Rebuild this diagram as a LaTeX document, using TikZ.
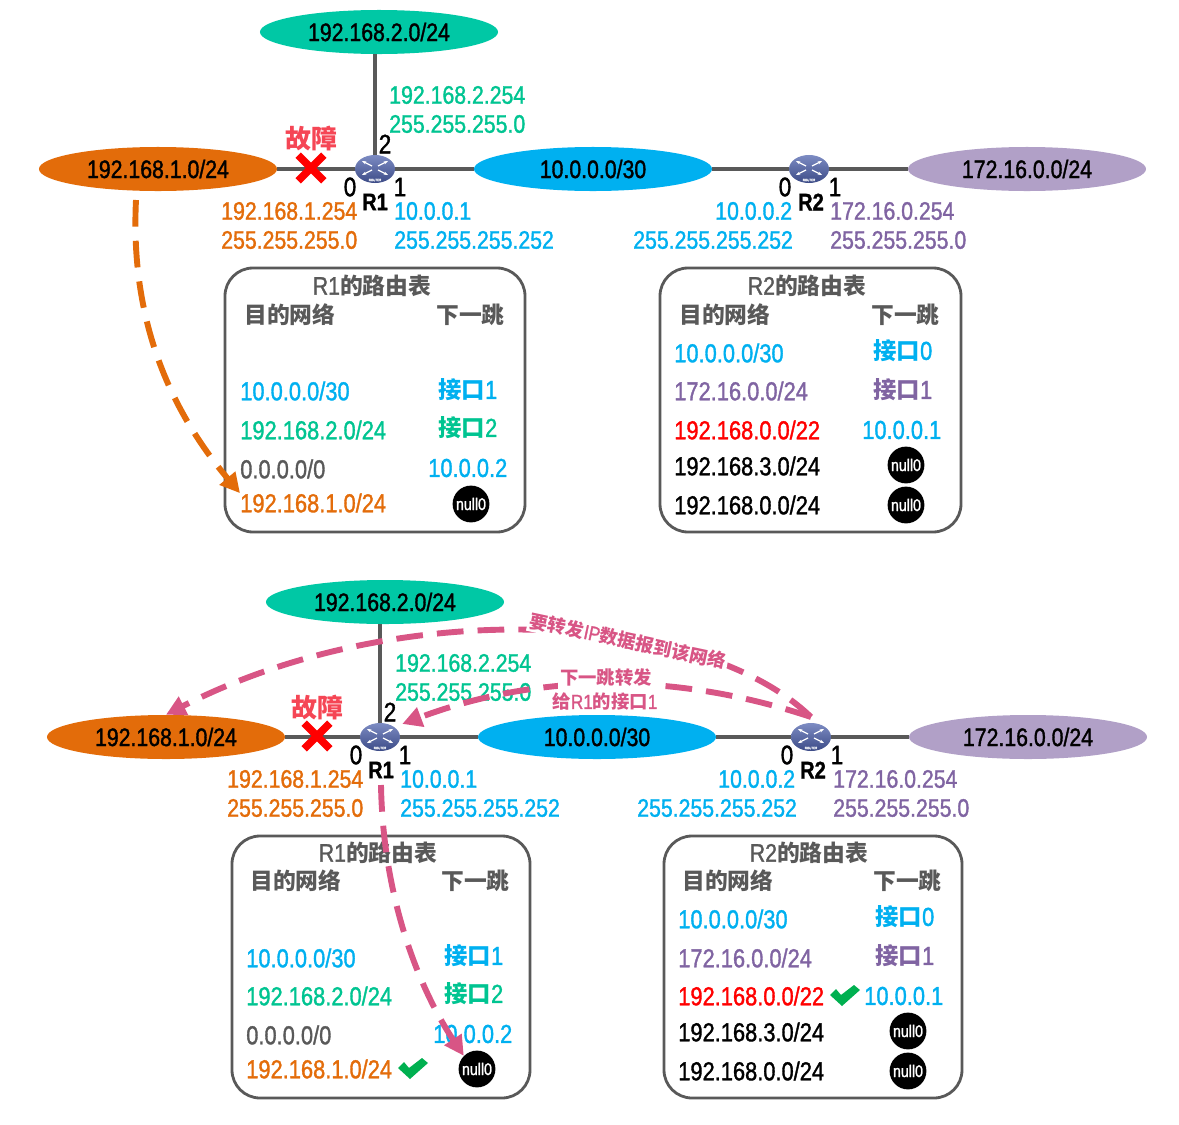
\documentclass[tikz,border=0pt]{standalone}
\usepackage{fontspec}
\usetikzlibrary{arrows.meta, shapes.geometric, shapes.misc}
\setmainfont{Liberation Sans}[FakeStretch=0.84,FakeBold=1.3]
\newfontfamily\cjk{Noto Sans CJK SC}[Scale=0.9]
\newcommand{\zh}[1]{{\cjk\bfseries #1}}
\definecolor{netgreen}{RGB}{0,200,165}
\definecolor{txtgreen}{RGB}{0,196,145}
\definecolor{netorange}{RGB}{227,108,10}
\definecolor{netblue}{RGB}{0,176,240}
\definecolor{netpurple}{RGB}{177,160,199}
\definecolor{txtpurple}{RGB}{128,100,162}
\definecolor{linegray}{RGB}{89,89,89}
\definecolor{pinkline}{RGB}{216,85,133}
\definecolor{faultred}{RGB}{245,70,85}
\definecolor{okgreen}{RGB}{0,176,80}
\definecolor{routertop}{RGB}{125,140,195}
\definecolor{routerlow}{RGB}{60,75,135}
\tikzset{
  netnode/.style={ellipse, minimum width=5.95cm, minimum height=1.1cm, inner sep=0pt, font=\fontsize{18}{20}\selectfont},
  addr/.style={anchor=west, inner sep=0pt, font=\fontsize{18}{20}\selectfont},
  rowtxt/.style={anchor=west, inner sep=0pt, font=\fontsize{18.5}{20}\selectfont},
  head/.style={inner sep=0pt, text=linegray, font=\fontsize{18}{20}\selectfont},
  port/.style={inner sep=0pt, font=\fontsize{19}{20}\selectfont},
  rname/.style={inner sep=0pt, font=\fontsize{17}{18}\selectfont\bfseries},
  link/.style={linegray, line width=2.8pt},
  tablebox/.style={linegray, line width=2pt, rounded corners=0.7cm},
  routernode/.style={ellipse, minimum width=1cm, minimum height=0.7cm, inner sep=0pt, top color=routertop, bottom color=routerlow},
  nullnode/.style={circle, fill=black, text=white, minimum size=0.92cm, inner sep=0pt, font=\fontsize{12}{14}\selectfont},
  faultx/.style={cross out, draw=red, line width=5.5pt, minimum size=0.45cm, inner sep=0pt},
  faulttxt/.style={inner sep=0pt, text=faultred, font=\fontsize{20.5}{22}\selectfont},
  pinktxt/.style={inner sep=1.5pt, fill=white, text=pinkline, font=\fontsize{14.5}{16}\selectfont},
  flow/.style={line width=4.2pt, dash pattern=on 19pt off 10pt, -{Triangle[length=14pt,width=14pt]}},
  router/.pic={
    \foreach \a/\b in {-1/-1,1/-1,-1/1,1/1}
      \draw[white, line width=0.9pt, -{Stealth[length=3pt]}] (3*\a,2*\b-1) -- (13*\a,7*\b-1);
    \node[text=white, inner sep=0pt, font=\fontsize{2.5}{3}\selectfont] (-rt) at (0,11) {ROUTER};
  },
  okmark/.pic={
    \fill[okgreen] (-15,0) -- (-9,-6) -- (-4,0) -- (9,-10) -- (15,-5) -- (-3,11) -- cycle;
  }
}
\begin{document}
\begin{tikzpicture}[x=0.025cm,y=-0.025cm]
  \useasboundingbox (0,0) rectangle (1179,1125);
  % upper network
  \node[netnode, fill=netgreen] (netA2) at (379,32) {192.168.2.0/24};
  \node[netnode, fill=netorange] (netA1) at (158,169) {192.168.1.0/24};
  \node[netnode, fill=netblue] (netA3) at (593,169) {10.0.0.0/30};
  \node[netnode, fill=netpurple] (netA4) at (1027,169) {172.16.0.0/24};
  \node[routernode] (routerA1) at (375,169) {};
  \node[routernode] (routerA2) at (809,169) {};
  \pic (iconA1) at (375,169) {router};
  \pic (iconA2) at (809,169) {router};
  \draw[link] (netA1) -- (routerA1);
  \draw[link] (routerA1) -- (netA3);
  \draw[link] (netA3) -- (routerA2);
  \draw[link] (routerA2) -- (netA4);
  \draw[link] (routerA1) -- (routerA1 |- netA2.south);
  \node[faultx] (crossA) at (311,168) {};
  \node[faulttxt] (faultA) at (311,139) {\zh{故障}};
  \node[port] (portA2) at (385,144) {2};
  \node[port] (portA0) at (350,187) {0};
  \node[port] (portA1) at (400,187) {1};
  \node[rname] (nameA1) at (375,202) {R1};
  \node[port] (portB0) at (785,187) {0};
  \node[port] (portB1) at (835,187) {1};
  \node[rname] (nameA2) at (811,202) {R2};
  \node[addr, text=txtgreen] (ipA2) at (389,95) {192.168.2.254};
  \node[addr, text=txtgreen] (maskA2) at (389,124) {255.255.255.0};
  \node[addr, text=netorange] (ipA0) at (221,211) {192.168.1.254};
  \node[addr, text=netorange] (maskA0) at (221,240) {255.255.255.0};
  \node[addr, text=netblue] (ipA1) at (394,211) {10.0.0.1};
  \node[addr, text=netblue] (maskA1) at (394,240) {255.255.255.252};
  \node[addr, text=netblue] (ipB0) at (715,211) {10.0.0.2};
  \node[addr, text=netblue] (maskB0) at (633,240) {255.255.255.252};
  \node[addr, text=txtpurple] (ipB1) at (830,211) {172.16.0.254};
  \node[addr, text=txtpurple] (maskB1) at (830,240) {255.255.255.0};
  % upper tables
  \draw[tablebox] (225,268) rectangle (525,532);
  \node[head] (titleA1) at (372,286) {R1\zh{的路由表}};
  \node[head, anchor=west] (dstA1) at (244,315) {\zh{目的网络}};
  \node[head, anchor=west] (hopA1) at (436,315) {\zh{下一跳}};
  \node[rowtxt, text=netblue] (rowA11) at (240,391) {10.0.0.0/30};
  \node[rowtxt, text=netblue] (viaA11) at (438,390) {\zh{接口}1};
  \node[rowtxt, text=txtgreen] (rowA12) at (240,430) {192.168.2.0/24};
  \node[rowtxt, text=txtgreen] (viaA12) at (438,428) {\zh{接口}2};
  \node[rowtxt, text=linegray] (rowA13) at (240,469) {0.0.0.0/0};
  \node[rowtxt, text=netblue] (viaA13) at (428,468) {10.0.0.2};
  \node[rowtxt, text=netorange] (rowA14) at (240,503) {192.168.1.0/24};
  \node[nullnode] (viaA14) at (471,504) {null0};
  \draw[tablebox] (660,268) rectangle (961,532);
  \node[head] (titleA2) at (807,286) {R2\zh{的路由表}};
  \node[head, anchor=west] (dstA2) at (679,315) {\zh{目的网络}};
  \node[head, anchor=west] (hopA2) at (871,315) {\zh{下一跳}};
  \node[rowtxt, text=netblue] (rowA21) at (674,353) {10.0.0.0/30};
  \node[rowtxt, text=netblue] (viaA21) at (873,351) {\zh{接口}0};
  \node[rowtxt, text=txtpurple] (rowA22) at (674,391) {172.16.0.0/24};
  \node[rowtxt, text=txtpurple] (viaA22) at (873,390) {\zh{接口}1};
  \node[rowtxt, text=red] (rowA23) at (674,430) {192.168.0.0/22};
  \node[rowtxt, text=netblue] (viaA23) at (862,430) {10.0.0.1};
  \node[rowtxt] (rowA24) at (674,466) {192.168.3.0/24};
  \node[nullnode] (viaA24) at (906,465) {null0};
  \node[rowtxt] (rowA25) at (674,505) {192.168.0.0/24};
  \node[nullnode] (viaA25) at (906,505) {null0};
  \coordinate (flowA) at (136,200);
  \draw[flow, netorange] (flowA) .. controls (130,320) and (170,410) .. (rowA14.north west);
  % lower network
  \node[netnode, fill=netgreen] (netC2) at (385,602) {192.168.2.0/24};
  \node[netnode, fill=netorange] (netC1) at (166,737) {192.168.1.0/24};
  \node[netnode, fill=netblue] (netC3) at (597,737) {10.0.0.0/30};
  \node[netnode, fill=netpurple] (netC4) at (1028,737) {172.16.0.0/24};
  \node[routernode] (routerC1) at (380,737) {};
  \node[routernode] (routerC2) at (811,737) {};
  \pic (iconC1) at (380,737) {router};
  \pic (iconC2) at (811,737) {router};
  \draw[link] (netC1) -- (routerC1);
  \draw[link] (routerC1) -- (netC3);
  \draw[link] (netC3) -- (routerC2);
  \draw[link] (routerC2) -- (netC4);
  \draw[link] (routerC1) -- (routerC1 |- netC2.south);
  \node[faultx] (crossC) at (317,736) {};
  \node[faulttxt] (faultC) at (317,708) {\zh{故障}};
  \node[port] (portC2) at (390,712) {2};
  \node[port] (portC0) at (356,755) {0};
  \node[port] (portC1) at (405,755) {1};
  \node[rname] (nameC1) at (381,770) {R1};
  \node[port] (portD0) at (787,755) {0};
  \node[port] (portD1) at (837,755) {1};
  \node[rname] (nameC2) at (813,770) {R2};
  \node[addr, text=txtgreen] (ipC2) at (395,663) {192.168.2.254};
  \node[addr, text=txtgreen] (maskC2) at (395,692) {255.255.255.0};
  \node[addr, text=netorange] (ipC0) at (227,779) {192.168.1.254};
  \node[addr, text=netorange] (maskC0) at (227,808) {255.255.255.0};
  \node[addr, text=netblue] (ipC1) at (400,779) {10.0.0.1};
  \node[addr, text=netblue] (maskC1) at (400,808) {255.255.255.252};
  \node[addr, text=netblue] (ipD0) at (718,779) {10.0.0.2};
  \node[addr, text=netblue] (maskD0) at (637,808) {255.255.255.252};
  \node[addr, text=txtpurple] (ipD1) at (833,779) {172.16.0.254};
  \node[addr, text=txtpurple] (maskD1) at (833,808) {255.255.255.0};
  % lower tables
  \draw[tablebox] (232,836) rectangle (530,1098);
  \node[head] (titleC1) at (378,853) {R1\zh{的路由表}};
  \node[head, anchor=west] (dstC1) at (250,881) {\zh{目的网络}};
  \node[head, anchor=west] (hopC1) at (441,881) {\zh{下一跳}};
  \node[rowtxt, text=netblue] (rowC11) at (246,958) {10.0.0.0/30};
  \node[rowtxt, text=netblue] (viaC11) at (444,956) {\zh{接口}1};
  \node[rowtxt, text=txtgreen] (rowC12) at (246,996) {192.168.2.0/24};
  \node[rowtxt, text=txtgreen] (viaC12) at (444,994) {\zh{接口}2};
  \node[rowtxt, text=linegray] (rowC13) at (246,1035) {0.0.0.0/0};
  \node[rowtxt, text=netblue] (viaC13) at (433,1034) {10.0.0.2};
  \node[rowtxt, text=netorange] (rowC14) at (246,1069) {192.168.1.0/24};
  \pic at (413,1068) {okmark};
  \node[nullnode] (viaC14) at (477,1069) {null0};
  \draw[tablebox] (664,836) rectangle (962,1098);
  \node[head] (titleC2) at (809,853) {R2\zh{的路由表}};
  \node[head, anchor=west] (dstC2) at (682,881) {\zh{目的网络}};
  \node[head, anchor=west] (hopC2) at (873,881) {\zh{下一跳}};
  \node[rowtxt, text=netblue] (rowC21) at (678,919) {10.0.0.0/30};
  \node[rowtxt, text=netblue] (viaC21) at (875,917) {\zh{接口}0};
  \node[rowtxt, text=txtpurple] (rowC22) at (678,958) {172.16.0.0/24};
  \node[rowtxt, text=txtpurple] (viaC22) at (875,956) {\zh{接口}1};
  \node[rowtxt, text=red] (rowC23) at (678,996) {192.168.0.0/22};
  \pic at (845,995) {okmark};
  \node[rowtxt, text=netblue] (viaC23) at (864,996) {10.0.0.1};
  \node[rowtxt] (rowC24) at (678,1032) {192.168.3.0/24};
  \node[nullnode] (viaC24) at (908,1031) {null0};
  \node[rowtxt] (rowC25) at (678,1071) {192.168.0.0/24};
  \node[nullnode] (viaC25) at (908,1071) {null0};
  % forwarding paths
  \coordinate (flowC) at (811,717);
  \coordinate (flowD) at (381,785);
  \draw[flow, pinkline] (flowC) .. controls (700,610) and (400,595) .. (netC1.north);
  \draw[flow, pinkline, shorten >=6pt] (flowC) .. controls (700,680) and (560,665) .. (routerC1.north east);
  \draw[flow, pinkline] (flowD) .. controls (383,900) and (420,990) .. (viaC14.north west);
  \node[pinktxt, rotate=-12] (noteC1) at (628,641) {\zh{要转发}IP\zh{数据报到该网络}};
  \node[pinktxt] (noteC2) at (606,678) {\zh{下一跳转发}};
  \node[pinktxt] (noteC3) at (605,702) {\zh{给}R1\zh{的接口}1};
\end{tikzpicture}
\end{document}
